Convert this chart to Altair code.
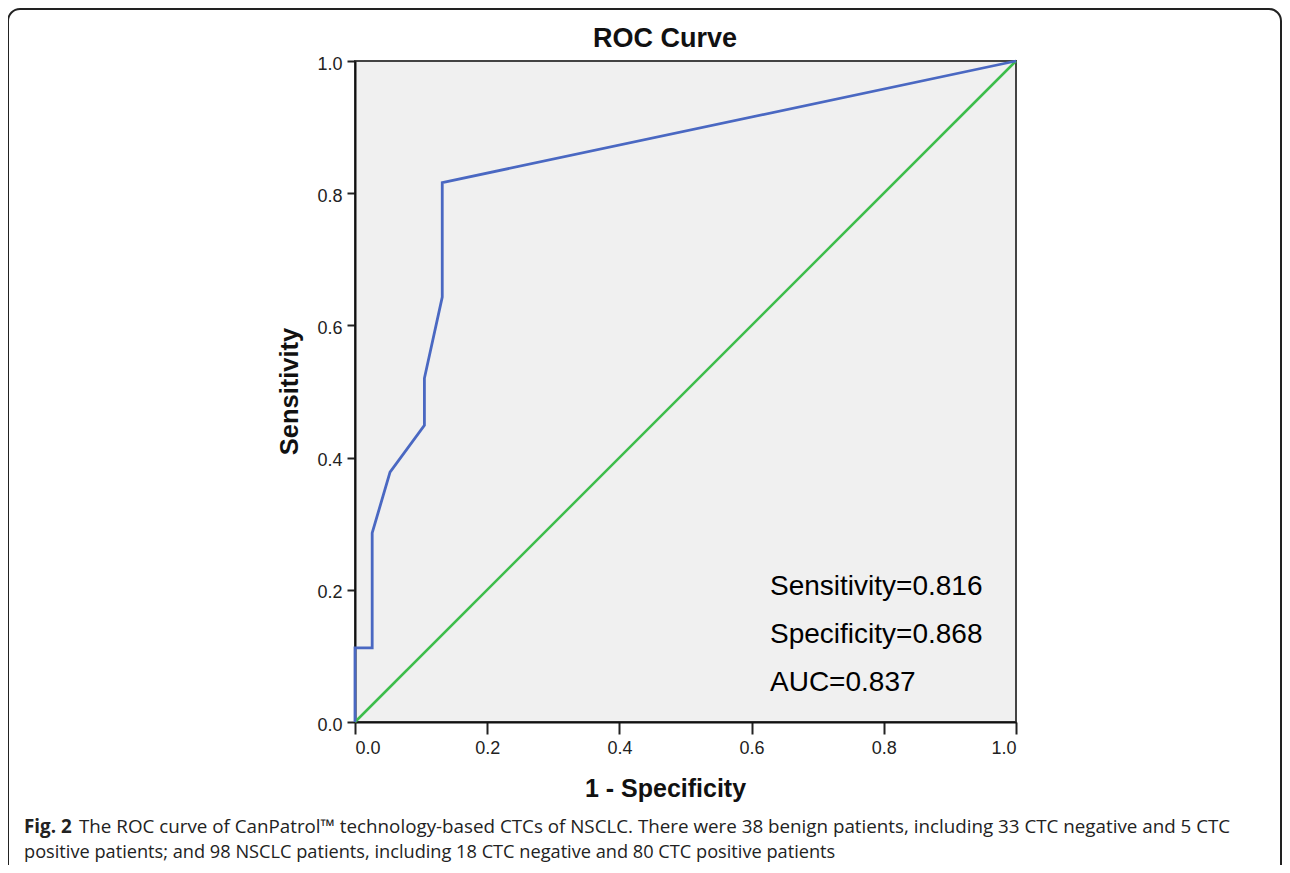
import altair as alt
import pandas as pd

# ROC curve points (1 - specificity, sensitivity)
fpr = [0.0, 0.0, 0.026, 0.026, 0.053, 0.105, 0.105, 0.132, 0.132, 1.0]
tpr = [0.0, 0.112, 0.112, 0.286, 0.378, 0.449, 0.520, 0.643, 0.816, 1.0]
ref_x = [0.0, 1.0]
ref_y = [0.0, 1.0]
ticks = [0.0, 0.2, 0.4, 0.6, 0.8, 1.0]

title_text = "ROC Curve"
x_title = "1 - Specificity"
y_title = "Sensitivity"
stats = ["Sensitivity=0.816", "Specificity=0.868", "AUC=0.837"]
cap_bold = "Fig. 2"
cap_line1 = ("The ROC curve of CanPatrol™ technology-based CTCs of NSCLC. There were 38 benign "
             "patients, including 33 CTC negative and 5 CTC")
cap_line2 = ("positive patients; and 98 NSCLC patients, including 18 CTC negative and 80 CTC "
             "positive patients")

W, H = 661, 661

roc_df = pd.DataFrame({"x": fpr, "y": tpr, "o": list(range(len(fpr)))})
ref_df = pd.DataFrame({"x": ref_x, "y": ref_y, "o": [0, 1]})

xs = alt.Scale(domain=[0, 1], nice=False, zero=False)
ys = alt.Scale(domain=[0, 1], nice=False, zero=False)

x_axis = alt.Axis(values=ticks, format=".1f", title=x_title, tickSize=12,
                  labelPadding=5, titleX=310, titleY=74, titleBaseline="alphabetic",
                  titleFontSize=25, titleFontWeight="bold")
y_axis = alt.Axis(values=ticks, format=".1f", title=y_title, tickSize=8,
                  labelPadding=5, labelOffset=3, titleX=-58, titleY=330,
                  titleBaseline="alphabetic", titleAngle=270,
                  titleFontSize=25.5, titleFontWeight="bold")

frame = alt.Chart(pd.DataFrame({"a": [0]})).mark_rect(
    fill="transparent", stroke="#222", strokeWidth=2, cornerRadius=12
).encode(
    x=alt.value(8 - 355), x2=alt.value(1281 - 355),
    y=alt.value(9 - 61), y2=alt.value(950)
)

ref_line = alt.Chart(ref_df).mark_line(color="#3dbd4b", strokeWidth=2.5).encode(
    x=alt.X("x:Q", scale=xs, axis=x_axis),
    y=alt.Y("y:Q", scale=ys, axis=y_axis),
    order="o:O",
)

roc_line = alt.Chart(roc_df).mark_line(color="#4a68c2", strokeWidth=2.8).encode(
    x=alt.X("x:Q", scale=xs),
    y=alt.Y("y:Q", scale=ys),
    order="o:O",
)

title = alt.Chart(pd.DataFrame({"t": [title_text]})).mark_text(
    font="Liberation Sans", fontSize=27, fontWeight="bold", color="#111",
    align="center", baseline="alphabetic"
).encode(text="t:N", x=alt.value(665 - 355), y=alt.value(47 - 61))

stats_df = pd.DataFrame({"t": stats, "yy": [534, 582, 630]})
stats_layer = alt.Chart(stats_df).mark_text(
    font="Liberation Sans", fontSize=28, color="#000", align="left", baseline="alphabetic"
).encode(text="t:N", x=alt.value(770 - 355), y=alt.Y("yy:Q", scale=None))

cap1 = alt.Chart(pd.DataFrame({"t": [cap_bold]})).mark_text(
    font="Open Sans", fontSize=18.8, fontWeight="bold", color="#222", align="left",
    baseline="alphabetic"
).encode(text="t:N", x=alt.value(24 - 355), y=alt.value(833 - 61))

cap2 = alt.Chart(pd.DataFrame({"t": [cap_line1]})).mark_text(
    font="Open Sans", fontSize=18.8, color="#222", align="left", baseline="alphabetic"
).encode(text="t:N", x=alt.value(79 - 355), y=alt.value(833 - 61))

cap3 = alt.Chart(pd.DataFrame({"t": [cap_line2]})).mark_text(
    font="Open Sans", fontSize=18.2, color="#222", align="left", baseline="alphabetic"
).encode(text="t:N", x=alt.value(24 - 355), y=alt.value(858 - 61))

chart = alt.layer(frame, ref_line, roc_line, title, stats_layer, cap1, cap2, cap3).properties(
    width=W, height=H,
    autosize=alt.AutoSizeParams(type="none"),
    padding={"left": 347, "top": 53, "right": 266, "bottom": 143},
).configure_view(
    fill="#f0f0f0", stroke="#444", strokeWidth=2
).configure_axis(
    grid=False,
    labelFont="Liberation Sans", labelFontSize=18, labelColor="#222",
    titleFont="Liberation Sans", titleColor="#111",
    domainColor="#111", domainWidth=2,
    tickColor="#222", tickWidth=2,
)

chart.save("out.html", embed_options={"renderer": "svg", "actions": False})
